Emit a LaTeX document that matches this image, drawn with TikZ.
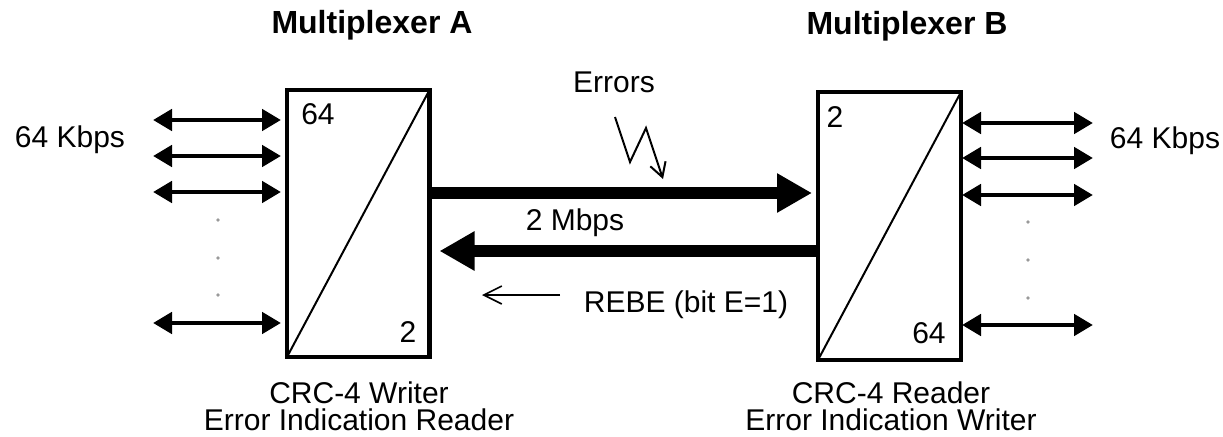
\documentclass[tikz,border=0pt]{standalone}
\usepackage{fontspec}
\setmainfont{Liberation Sans}
\usetikzlibrary{arrows.meta}
\begin{document}
\begin{tikzpicture}[x=0.5pt,y=-0.5pt,
  mux/.style={draw,line width=2.3pt,inner sep=0pt,outer sep=0pt},
  lbl/.style={anchor=base,inner sep=0pt,font=\fontsize{15}{18}\selectfont},
  muxcaption/.style={anchor=base,inner sep=0pt,align=center,font=\fontsize{15}{13.5}\selectfont},
  ttl/.style={anchor=base,inner sep=0pt,font=\fontsize{16}{19}\selectfont\bfseries},
  diag/.style={line width=1pt},
  dbl/.style={line width=2.4pt,{Triangle[length=9.5pt,width=10.5pt]}-{Triangle[length=9.5pt,width=10.5pt]}},
  trunk/.style={line width=6pt,-{Triangle[length=17.5pt,width=18.5pt]}},
  slim/.style={line width=0.8pt,-{Straight Barb[length=9pt,width=9pt]}},
  bolt/.style={line width=1pt,line join=miter,-{Straight Barb[length=7pt,width=8pt]}},
  dotmark/.style={fill=gray!80}]
\useasboundingbox (0,0) rectangle (1223,436);

% multiplexer boxes
\node[mux,minimum width=71.25pt,minimum height=133.5pt] (A) at (358.25,223.5) {};
\node[mux,minimum width=71.5pt,minimum height=134pt] (B) at (889.5,226) {};
\draw[diag] (A.south west) -- (A.north east);
\draw[diag] (B.south west) -- (B.north east);

% titles
\node[ttl] (tA) at (372,33) {Multiplexer A};
\node[ttl] (tB) at (907,34) {Multiplexer B};

% numbers in boxes
\node[lbl] (a64) at (318,124) {64};
\node[lbl] (a2) at (408,342) {2};
\node[lbl] (b2) at (835,127) {2};
\node[lbl] (b64) at (929,343) {64};

% captions
\node[muxcaption] (cA) at (359,430) {CRC-4 Writer\\Error Indication Reader};
\node[muxcaption] (cB) at (891,430) {CRC-4 Reader\\Error Indication Writer};

% 64 Kbps labels
\node[lbl] (kA) at (70,147) {64 Kbps};
\node[lbl] (kB) at (1165,148) {64 Kbps};

% left tributaries
\coordinate (la1) at (153,120);
\coordinate (la2) at (153,156);
\coordinate (la3) at (153,192);
\coordinate (la4) at (153,323);
\foreach \c in {la1,la2,la3,la4}
  \draw[dbl,shorten >=3pt] (\c) -- (A.west |- \c);
\foreach \y in {220,258,295}
  \fill[dotmark] (218,\y) circle (0.9pt);

% right tributaries
\coordinate (rb1) at (1093,123);
\coordinate (rb2) at (1093,158);
\coordinate (rb3) at (1093,195);
\coordinate (rb4) at (1093,325);
\foreach \c in {rb1,rb2,rb3,rb4}
  \draw[dbl,shorten <=0.5pt] (B.east |- \c) -- (\c);
\foreach \y in {222,260,298}
  \fill[dotmark] (1028,\y) circle (0.9pt);

% 2 Mbps trunk
\coordinate (t1) at (600,193);
\coordinate (t2) at (600,251);
\draw[trunk,shorten >=3pt] (A.east |- t1) -- (B.west |- t1);
\draw[trunk,shorten >=5pt] (B.west |- t2) -- (A.east |- t2);
\node[lbl] (mb) at (575,230) {2 Mbps};

% errors
\node[lbl] (err) at (614,92) {Errors};
\draw[bolt] (615,117) -- (630,162) -- (646,128) -- (663,179);

% REBE
\node[lbl] (rebe) at (686,312) {REBE (bit E=1)};
\coordinate (r1) at (560,295);
\coordinate (r2) at (482,295);
\draw[slim] (r1) -- (r2);
\end{tikzpicture}
\end{document}
